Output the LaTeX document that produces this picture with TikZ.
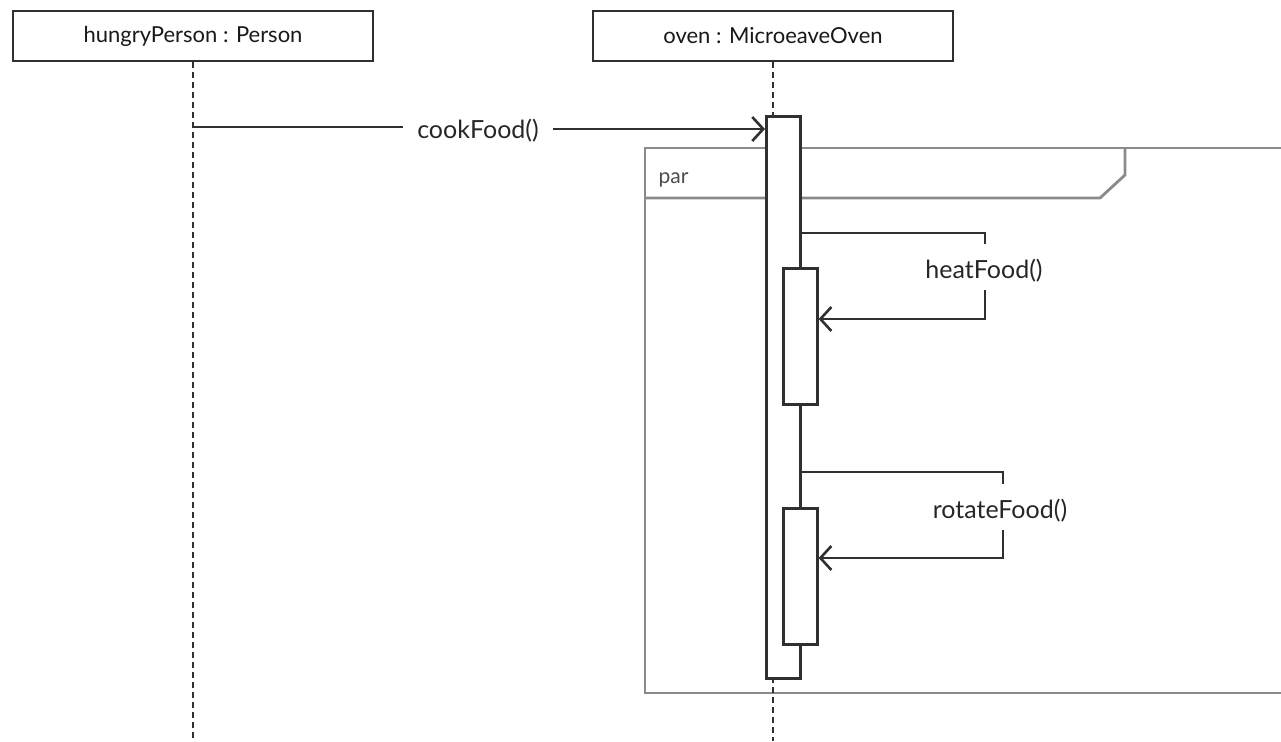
\documentclass[tikz,border=0pt]{standalone}
\usepackage{fontspec}
\setmainfont{Lato}
\usetikzlibrary{arrows.meta,positioning,calc}
\definecolor{ink}{RGB}{48,48,48}
\definecolor{fragline}{RGB}{138,138,138}
\tikzset{
  lifebox/.style={draw=ink, line width=2.6pt, fill=white, minimum width=360pt, minimum height=50pt,
    font=\fontsize{22}{26}\selectfont, text=black!90},
  life/.style={draw=ink, line width=2pt, dash pattern=on 6pt off 4pt},
  actbar/.style={draw=ink, line width=2.6pt, fill=white, minimum width=34pt, inner sep=0pt},
  call/.style={draw=ink, line width=2.6pt},
  msg/.style={draw=ink, line width=2.6pt, -{Straight Barb[length=11pt, width=24pt, line width=2.6pt]}},
  mlbl/.style={font=\fontsize{25}{30}\selectfont, text=black!85, inner sep=2pt},
  fragment/.style={draw=fragline, line width=2.8pt},
}
\begin{document}
\begin{tikzpicture}[x=1pt, y=-1pt]
  \useasboundingbox (0,0) rectangle (1281,741);
  \clip (0,0) rectangle (1281,741);
  % objects
  \node[lifebox] (hp) at (193,36) {hungryPerson : Person};
  \node[lifebox] (oven) at (773,36) {oven : MicroeaveOven};
  % par fragment
  \draw[fragment] (645,148) rectangle (1300,693);
  \draw[fragment] (645,198) -- (1100,198) -- (1125,175) -- (1125,148);
  \node[font=\fontsize{21}{24}\selectfont, text=black!70, anchor=west] (par) at (655,180) {par};
  % lifelines
  \draw[life] (hp.south) -- (193,741);
  \node[actbar, minimum height=562pt, anchor=north west] (ovenbar) at (765,115) {};
  \draw[life] (oven.south) -- (773,115);
  \draw[life] (773,677) -- (773,741);
  \node[actbar, minimum height=136pt, anchor=north west] (heatbar) at (782,267) {};
  \node[actbar, minimum height=136pt, anchor=north west] (rotbar) at (782,507) {};
  % cookFood
  \node[mlbl, inner xsep=14pt] (cook) at (478,131) {cookFood()};
  \draw[call] (193,127) -- (cook.west |- 0,127);
  \draw[msg] (cook.east |- 0,129) -- (ovenbar.west |- 0,129);
  % heatFood
  \node[mlbl] (heat) at (984,271) {heatFood()};
  \coordinate (heatA) at (985,244);
  \coordinate (heatB) at (985,290);
  \draw[call] (ovenbar.east |- 0,233) -| (heatA);
  \draw[msg] (heatB) |- (heatbar.east |- 0,319);
  % rotateFood
  \node[mlbl] (rot) at (1000,511) {rotateFood()};
  \coordinate (rotA) at (1003,484);
  \coordinate (rotB) at (1003,530);
  \draw[call] (ovenbar.east |- 0,472) -| (rotA);
  \draw[msg] (rotB) |- (rotbar.east |- 0,558);
\end{tikzpicture}
\end{document}
